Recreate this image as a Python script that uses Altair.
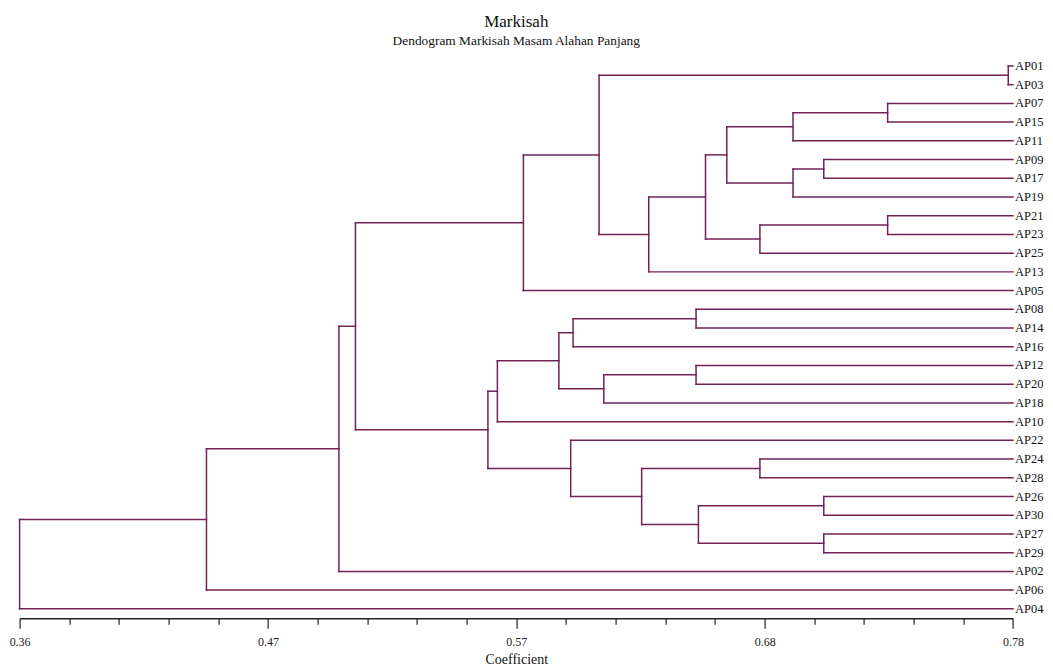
import altair as alt
import pandas as pd

# ---------------- data ----------------
leaves = ["AP01", "AP03", "AP07", "AP15", "AP11", "AP09", "AP17", "AP19",
          "AP21", "AP23", "AP25", "AP13", "AP05", "AP08", "AP14", "AP16",
          "AP12", "AP20", "AP18", "AP10", "AP22", "AP24", "AP28", "AP26",
          "AP30", "AP27", "AP29", "AP02", "AP06", "AP04"]

node_ids = ["n1", "n2", "n3", "n4", "n5", "n6", "n7", "n8", "n9", "n10",
            "n11", "n12", "n13", "n14", "n15", "n16", "n17", "n18", "n19",
            "n20", "n21", "n22", "n23", "n24", "n25", "n26", "n27", "n28", "n29"]
node_left = ["AP01", "AP07", "n2", "AP09", "n4", "n3", "AP21", "n7", "n6", "n9",
             "n1", "n11", "AP08", "n13", "AP12", "n15", "n14", "n17", "AP24",
             "AP26", "AP27", "n20", "n19", "AP22", "n18", "n12", "n26", "n27", "n28"]
node_right = ["AP03", "AP15", "AP11", "AP17", "AP19", "n5", "AP23", "AP25", "n8", "AP13",
              "n10", "AP05", "AP14", "AP16", "AP20", "AP18", "n16", "AP10", "AP28",
              "AP30", "AP29", "n21", "n22", "n23", "n24", "n25", "AP02", "AP06", "AP04"]
node_height = [0.778, 0.727, 0.687, 0.700, 0.687, 0.659, 0.727, 0.673, 0.650, 0.626,
               0.605, 0.573, 0.646, 0.594, 0.646, 0.607, 0.588, 0.562, 0.673,
               0.700, 0.700, 0.647, 0.623, 0.593, 0.558, 0.502, 0.495, 0.439, 0.360]

leaf_end = 0.78
x_min, x_max = 0.36, 0.78
major_ticks = [0.36, 0.465, 0.57, 0.675, 0.78]
major_labels = ["0.36", "0.47", "0.57", "0.68", "0.78"]
all_ticks = [round(0.36 + i * 0.021, 3) for i in range(21)]

title_text = "Markisah"
subtitle_text = "Dendogram Markisah Masam Alahan Panjang"
x_title = "Coefficient"

# ---------------- build segments from the tree ----------------
pos_y = {name: i for i, name in enumerate(leaves)}
pos_x = {name: leaf_end for name in leaves}
segs = []
for nid, l, r, h in zip(node_ids, node_left, node_right, node_height):
    for c in (l, r):
        segs.append({"x": h, "x2": pos_x[c], "y": pos_y[c], "y2": pos_y[c]})
    segs.append({"x": h, "x2": h, "y": pos_y[l], "y2": pos_y[r]})
    pos_y[nid] = (pos_y[l] + pos_y[r]) / 2
    pos_x[nid] = h
seg_df = pd.DataFrame(segs)
lab_df = pd.DataFrame({"name": leaves, "y": list(range(len(leaves))),
                       "x": [leaf_end] * len(leaves)})

# ---------------- chart ----------------
LINE = "#702354"
SERIF = "Liberation Serif"

label_expr = "''"
for v, lab in reversed(list(zip(major_ticks, major_labels))):
    label_expr = f"round(datum.value*1000)=={int(round(v * 1000))} ? '{lab}' : ({label_expr})"
major_test = "indexof([" + ",".join(str(v) for v in major_ticks) + "], round(datum.value*1000)/1000) >= 0"

xscale = alt.Scale(domain=[x_min, x_max], nice=False, zero=False)
yscale = alt.Scale(domain=[-0.5, len(leaves) - 0.5], nice=False, zero=False, reverse=True)

xaxis = alt.Axis(
    values=all_ticks, grid=False, labelFlush=False, labelOverlap=False,
    labelExpr=label_expr,
    tickSize={"condition": {"test": major_test, "value": 10}, "value": 6},
    tickColor="#222222", tickWidth=1.2, domainColor="#222222", domainWidth=1.4,
    labelFont=SERIF, labelFontSize=12, labelColor="#222222", labelPadding=8,
    title=x_title, titleFont=SERIF, titleFontSize=14, titleFontWeight="normal",
    titleColor="#111111", titlePadding=5,
)

lines = alt.Chart(seg_df).mark_rule(color=LINE, strokeWidth=1.5, strokeCap="square").encode(
    x=alt.X("x:Q", scale=xscale, axis=xaxis),
    x2="x2:Q",
    y=alt.Y("y:Q", scale=yscale, axis=None),
    y2="y2:Q",
)

labels = alt.Chart(lab_df).mark_text(
    align="left", baseline="middle", dx=2, font=SERIF, fontSize=12.5, color="#111111"
).encode(
    x=alt.X("x:Q", scale=xscale),
    y=alt.Y("y:Q", scale=yscale),
    text="name:N",
)

chart = alt.layer(lines, labels).properties(
    width=993.4,
    height=561.6,
    padding={"left": 11.6, "top": 48.6, "right": 32, "bottom": 50},
    autosize=alt.AutoSizeParams(type="none"),
    title=alt.TitleParams(
        text=title_text, subtitle=subtitle_text, anchor="middle",
        font=SERIF, fontSize=17, fontWeight="normal", color="#111111",
        subtitleFont=SERIF, subtitleFontSize=13.4, subtitleColor="#111111",
        subtitlePadding=3, offset=8,
    ),
).configure_view(stroke=None)

chart.save("out.html", embed_options={"renderer": "svg", "actions": False})
